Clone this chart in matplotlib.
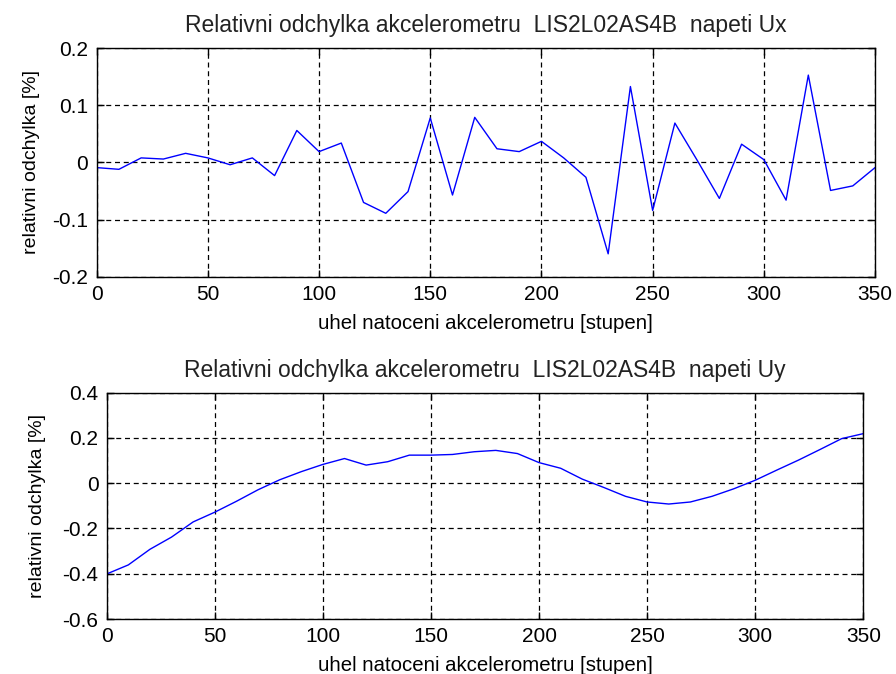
"""
    Relativni odchylka akcelerometru LIS2L02AS4B - napeti Ux a Uy
"""
import matplotlib
matplotlib.use('Agg')
import matplotlib.pyplot as plt

plt.rcParams['font.family'] = ['Liberation Sans', 'DejaVu Sans']

# uhel natoceni [stupen]
uhel = list(range(0, 360, 10))

# relativni odchylka napeti Ux [%]
odchylka_ux = [-0.009, -0.012, 0.008, 0.006, 0.016, 0.008, -0.004, 0.008, -0.023, 0.056,
               0.019, 0.034, -0.070, -0.089, -0.051, 0.078, -0.057, 0.079, 0.024, 0.019,
               0.037, 0.008, -0.026, -0.160, 0.133, -0.084, 0.069, 0.004, -0.063, 0.032,
               0.005, -0.066, 0.153, -0.049, -0.041, -0.009]

# relativni odchylka napeti Uy [%]
odchylka_uy = [-0.401, -0.361, -0.292, -0.238, -0.171, -0.128, -0.080, -0.029, 0.015, 0.051,
               0.083, 0.109, 0.080, 0.095, 0.124, 0.124, 0.127, 0.139, 0.145, 0.131,
               0.091, 0.066, 0.018, -0.019, -0.058, -0.083, -0.092, -0.083, -0.058, -0.025,
               0.013, 0.058, 0.102, 0.149, 0.197, 0.219]

TITLE_UX = 'Relativni odchylka akcelerometru  LIS2L02AS4B  napeti Ux'
TITLE_UY = 'Relativni odchylka akcelerometru  LIS2L02AS4B  napeti Uy'
XLABEL = 'uhel natoceni akcelerometru [stupen]'
YLABEL = 'relativni odchylka [%]'


def format_axes(ax, title, yticks, title_pad, ylabel_pad):
    """
        styl os jako v MATLABu
    """
    ax.set_xlim(0, 350)
    ax.set_xticks([0, 50, 100, 150, 200, 250, 300, 350])
    ax.set_ylim(yticks[0], yticks[-1])
    ax.set_yticks(yticks)
    ax.set_yticklabels(['0' if v == 0 else '{:g}'.format(v) for v in yticks])
    ax.grid(True, color='black', linestyle=(0, (4, 3)), linewidth=0.9)
    ax.tick_params(direction='in', top=True, right=True, length=5, width=1,
                   labelsize=15, pad=6, colors='black')
    for s in ax.spines.values():
        s.set_linewidth(1)
    ax.set_title(title, fontsize=16.5, pad=title_pad, color='#222222')
    ax.set_xlabel(XLABEL, fontsize=14.7, labelpad=7)
    ax.set_ylabel(YLABEL, fontsize=14, labelpad=ylabel_pad)


fig = plt.figure(figsize=(8.96, 6.74), dpi=100)

ax1 = fig.add_axes([0.1079, 0.5895, 0.8687, 0.3389])
ax1.plot(uhel, odchylka_ux, color='#0000ff', linewidth=1)
format_axes(ax1, TITLE_UX, [-0.2, -0.1, 0, 0.1, 0.2], 12, 9)

ax2 = fig.add_axes([0.1191, 0.0816, 0.8444, 0.3358])
ax2.plot(uhel, odchylka_uy, color='#0000ff', linewidth=1)
format_axes(ax2, TITLE_UY, [-0.6, -0.4, -0.2, 0, 0.2, 0.4], 11, 12)

fig.savefig('out.png', dpi=100)
